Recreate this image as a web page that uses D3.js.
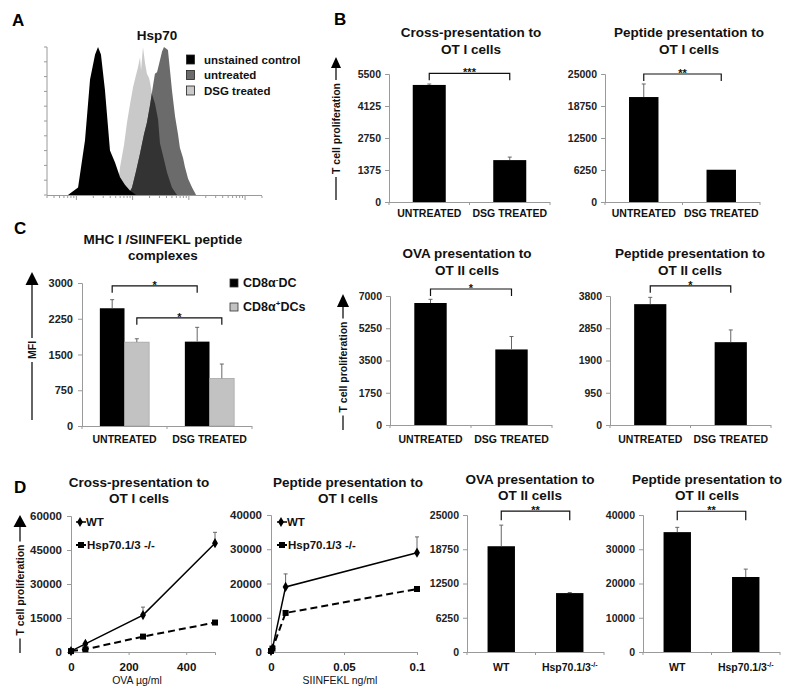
<!DOCTYPE html>
<html><head><meta charset="utf-8">
<script src="https://cdn.jsdelivr.net/npm/d3@7"></script>
<style>body{margin:0;background:#fff}svg text{font-family:Arial,"Liberation Sans",sans-serif}</style>
</head><body>
<svg id="c" width="800" height="697"></svg>
<script>
// ---------------- DATA ----------------
// Panel A: Hsp70 flow histograms (channel, relative count)
const unstainedCh    = [100,119,148,181,205,229,243,257,276,300,324,348,371,395,424];
const unstainedCount = [0,2,5,37,78,95,100,95,71,30,22,12,7,3,0];
const dsgCh    = [324,338,348,367,381,395,410,424,433,443,448,457,467,476,486,491,500,514,529,538,557,572,595,619];
const dsgCount = [0,7,19,34,49,61,73,81,86,93,84,100,89,82,79,76,68,62,51,35,24,15,5,0];
const untreatedCh    = [386,405,424,443,462,476,491,505,514,524,538,548,557,567,576,586,595,610,624,633,648,657,672,691,710];
const untreatedCount = [0,5,16,28,41,49,61,74,82,83,91,97,100,99,98,84,71,53,41,32,25,19,11,5,0];
const histLegend = ["unstained control","untreated","DSG treated"];

// Panel B
const bCats = ["UNTREATED","DSG TREATED"];
const b1Values = [5030,1800],  b1Errs = [40,130],  b1Ticks = [0,1375,2750,4125,5500];
const b2Values = [20500,6300], b2Errs = [2550,0],  b2Ticks = [0,6250,12500,18750,25000];
const b3Values = [6620,4100],  b3Errs = [200,700], b3Ticks = [0,1750,3500,5250,7000];
const b4Values = [3560,2440],  b4Errs = [200,360], b4Ticks = [0,950,1900,2850,3800];

// Panel C
const cSeries = ["CD8α-DC","CD8α+DCs"];
const cNegValues = [2470,1770], cNegErrs = [180,300];
const cPosValues = [1760,1000], cPosErrs = [70,300];
const cTicks = [0,750,1500,2250,3000];

// Panel D
const dOvaX = [0,50,250,500];
const dOvaWT = [400,3600,16300,48000], dOvaWTErr = [0,0,3500,4800];
const dOvaKO = [400,1200,6800,13000],  dOvaKOErr = [0,0,0,0];
const dOvaYTicks = [0,15000,30000,45000,60000], dOvaXTicks = [0,200,400];
const dPepX = [0,0.001,0.01,0.1];
const dPepWT = [300,1000,19000,29000], dPepWTErr = [0,0,3800,4600];
const dPepKO = [300,1000,11400,18400], dPepKOErr = [0,0,0,0];
const dPepYTicks = [0,10000,20000,30000,40000], dPepXTicks = [0,0.05,0.1];
const dCats = ["WT","Hsp70.1/3"];
const d3Values = [19300,10750], d3Errs = [3850,100], d3Ticks = [0,6250,12500,18750,25000];
const d4Values = [35000,21900], d4Errs = [1400,2300], d4Ticks = [0,10000,20000,30000,40000];

// ---------------- DRAWING ----------------
const FONT = 'Arial, "Liberation Sans", sans-serif';
const svg = d3.select('#c');
const AX = '#9a9a9a';

function txt(g, x, y, s, size, opts={}) {
  return g.append('text').attr('x',x).attr('y',y).text(s)
    .attr('font-size',size).attr('font-weight',opts.weight||'bold')
    .attr('fill',opts.fill||'#111').attr('text-anchor',opts.anchor||'middle');
}
function title(lines, cx, ys) {
  lines.forEach((l,i)=>txt(svg,cx,ys[i],l,13.5));
}
function panelLetter(s,x,y){ txt(svg,x,y,s,17,{anchor:'start',fill:'#000'}); }
function styleAxis(ax, size=10.5) {
  ax.attr('font-family',FONT).attr('font-size',size).attr('font-weight','bold');
  ax.select('.domain').attr('stroke',AX);
  ax.selectAll('.tick line').attr('stroke',AX);
  ax.selectAll('.tick text').attr('fill','#222');
}
function errorBar(g, cx, yBase, yTop) {
  if (Math.abs(yBase-yTop) < 0.5) return;
  g.append('line').attr('x1',cx).attr('x2',cx).attr('y1',yBase).attr('y2',yTop).attr('stroke','#666').attr('stroke-width',1);
  g.append('line').attr('x1',cx-2).attr('x2',cx+2).attr('y1',yTop).attr('y2',yTop).attr('stroke','#666').attr('stroke-width',1);
}
function bracket(g, xa, xb, y, len, stars) {
  g.append('path').attr('d',`M${xa},${y+len}V${y}H${xb}V${y+len}`).attr('fill','none').attr('stroke','#111').attr('stroke-width',1.2);
  txt(g,(xa+xb)/2,y+3,stars,11,{fill:'#111'});
}
function arrowLabel(x, yBottom, yTop, hw, hh, label, center, size=10.5) {
  const g = svg.append('g');
  const t = g.append('text').attr('transform',`translate(${x},${center}) rotate(-90)`)
    .attr('text-anchor','middle').attr('dy','0.35em').attr('font-size',size).attr('font-weight','bold').attr('fill','#111').text(label);
  const len = t.node().getComputedTextLength();
  g.append('line').attr('x1',x).attr('x2',x).attr('y1',yBottom).attr('y2',center+len/2+3).attr('stroke','#111').attr('stroke-width',1.3);
  g.append('line').attr('x1',x).attr('x2',x).attr('y1',center-len/2-3).attr('y2',yTop+hh).attr('stroke','#111').attr('stroke-width',1.3);
  g.append('path').attr('d',`M${x-hw/2},${yTop+hh}L${x},${yTop}L${x+hw/2},${yTop+hh}Z`).attr('fill','#000');
}
function catLabel(g, x, y, s) {
  const t = g.append('text').attr('x',x).attr('y',y).attr('text-anchor','middle')
    .attr('font-size',10.5).attr('font-weight','bold').attr('fill','#111');
  if (s === 'Hsp70.1/3') {
    t.append('tspan').text(s);
    t.append('tspan').text('-/-').attr('font-size',7).attr('dy',-4);
  } else t.text(s);
}

// ---- Panel A
(function(){
  const g = svg.append('g');
  const hx = d3.scaleLinear().domain([0,1024]).range([47,262]);
  const hy = d3.scaleLinear().domain([0,100]).range([195,47]);
  const area = d3.area().x(d=>hx(d[0])).y0(hy(0)).y1(d=>hy(d[1]));
  const zip = (a,b)=>a.map((v,i)=>[v,b[i]]);
  const dsg = zip(dsgCh,dsgCount), unt = zip(untreatedCh,untreatedCount), uns = zip(unstainedCh,unstainedCount);
  g.append('clipPath').attr('id','dsgClip').append('path').attr('d',area(dsg));
  g.append('path').attr('d',area(dsg)).attr('fill','#c9c9c9');
  g.append('path').attr('d',area(unt)).attr('fill','#6b6b6b');
  g.append('path').attr('d',area(unt)).attr('fill','#333').attr('clip-path','url(#dsgClip)');
  g.append('path').attr('d',area(uns)).attr('fill','#000');
  // axes
  const lg = d3.scaleLog().domain([0.3,2000]).range([47,262]);
  g.append('line').attr('x1',47).attr('x2',262).attr('y1',195.5).attr('y2',195.5).attr('stroke',AX);
  g.append('line').attr('x1',47).attr('x2',47).attr('y1',47).attr('y2',195.5).attr('stroke',AX);
  lg.ticks().forEach(t=>{
    const major = Math.abs(Math.log10(t)-Math.round(Math.log10(t)))<1e-6;
    g.append('line').attr('x1',lg(t)).attr('x2',lg(t)).attr('y1',196).attr('y2',196+(major?4:2)).attr('stroke',AX);
  });
  hy.ticks(14).forEach(t=>g.append('line').attr('x1',44).attr('x2',47).attr('y1',hy(t)).attr('y2',hy(t)).attr('stroke',AX));
  // legend
  const cols = ['#000','#6b6b6b','#c9c9c9'];
  histLegend.forEach((s,i)=>{
    const y = 55+i*15.5;
    g.append('rect').attr('x',186.5).attr('y',y).attr('width',8).attr('height',9).attr('fill',cols[i]).attr('stroke','#222').attr('stroke-width',0.8);
    txt(g,204,y+8.5,s,11.5,{anchor:'start'});
  });
  txt(g,157,40,'Hsp70',13.5);
})();

// ---- generic bar panel
function barPanel(o) {
  const g = svg.append('g');
  const x = d3.scaleBand().domain(o.cats).range([o.x0,o.x1]).paddingInner(o.pad).paddingOuter(o.pad/2);
  const y = d3.scaleLinear().domain([0,o.ticks[o.ticks.length-1]]).range([o.y0,o.y1]);
  const ax = g.append('g').attr('transform',`translate(${o.x0},0)`)
    .call(d3.axisLeft(y).tickValues(o.ticks).tickSize(4).tickPadding(4).tickFormat(d3.format('d')));
  styleAxis(ax);
  g.append('line').attr('x1',o.x0).attr('x2',o.x1).attr('y1',o.y0+0.5).attr('y2',o.y0+0.5).attr('stroke',AX);
  [o.x0,(o.x0+o.x1)/2,o.x1].forEach(v=>g.append('line').attr('x1',v).attr('x2',v).attr('y1',o.y0).attr('y2',o.y0+3).attr('stroke',AX));
  const bw = x.bandwidth();
  g.selectAll('rect.bar').data(o.values).join('rect').attr('class','bar')
    .attr('x',(d,i)=>x(o.cats[i])).attr('width',bw).attr('y',d=>y(d)).attr('height',d=>o.y0-y(d)).attr('fill','#000');
  o.values.forEach((v,i)=>errorBar(g, x(o.cats[i])+bw/2, y(v), y(v+o.errs[i])));
  o.cats.forEach(c=>catLabel(g, x(c)+bw/2, o.labelY, c));
  bracket(g, x(o.cats[0])+bw/2, x(o.cats[1])+bw/2, y(o.sigAt), o.tick, o.stars);
  title(o.title, o.cx, o.ty);
}

barPanel({cats:bCats,values:b1Values,errs:b1Errs,ticks:b1Ticks,x0:389,x1:550,y0:202,y1:74,pad:0.59,
  sigAt:5530,tick:7,stars:'***',labelY:217,title:['Cross-presentation to','OT I cells'],cx:471,ty:[37,54]});
barPanel({cats:bCats,values:b2Values,errs:b2Errs,ticks:b2Ticks,x0:605,x1:760,y0:202,y1:74,pad:0.62,
  sigAt:25000,tick:7,stars:'**',labelY:217,title:['Peptide presentation to','OT I cells'],cx:689,ty:[37,54]});
barPanel({cats:bCats,values:b3Values,errs:b3Errs,ticks:b3Ticks,x0:390,x1:552,y0:425,y1:296,pad:0.6,
  sigAt:7380,tick:7,stars:'*',labelY:443,title:['OVA presentation to','OT II cells'],cx:467,ty:[258,275]});
barPanel({cats:bCats,values:b4Values,errs:b4Errs,ticks:b4Ticks,x0:610,x1:771,y0:425,y1:296,pad:0.6,
  sigAt:4100,tick:7,stars:'*',labelY:443,title:['Peptide presentation to','OT II cells'],cx:690,ty:[258,275]});
barPanel({cats:dCats,values:d3Values,errs:d3Errs,ticks:d3Ticks,x0:467,x1:604,y0:652,y1:515,pad:0.6,
  sigAt:25700,tick:9,stars:'**',labelY:671,title:['OVA presentation to','OT II cells'],cx:530,ty:[484,500]});
barPanel({cats:dCats,values:d4Values,errs:d4Errs,ticks:d4Ticks,x0:643,x1:780,y0:652,y1:515,pad:0.6,
  sigAt:41100,tick:9,stars:'**',labelY:671,title:['Peptide presentation to','OT II cells'],cx:707,ty:[484,500]});

// ---- Panel C grouped bars
(function(){
  const g = svg.append('g');
  const x0 = 82, x1 = 252, y0 = 426, y1 = 283;
  const x = d3.scaleBand().domain(bCats).range([x0,x1]).paddingInner(0.42).paddingOuter(0.21);
  const xs = d3.scaleBand().domain(cSeries).range([0,x.bandwidth()]);
  const y = d3.scaleLinear().domain([0,cTicks[cTicks.length-1]]).range([y0,y1]);
  const ax = g.append('g').attr('transform',`translate(${x0},0)`)
    .call(d3.axisLeft(y).tickValues(cTicks).tickSize(4).tickPadding(5).tickFormat(d3.format('d')));
  styleAxis(ax,11);
  g.append('line').attr('x1',x0).attr('x2',x1).attr('y1',y0+0.5).attr('y2',y0+0.5).attr('stroke',AX);
  [x0,(x0+x1)/2,x1].forEach(v=>g.append('line').attr('x1',v).attr('x2',v).attr('y1',y0).attr('y2',y0+3).attr('stroke',AX));
  const series = [{name:cSeries[0],vals:cNegValues,errs:cNegErrs,fill:'#000'},{name:cSeries[1],vals:cPosValues,errs:cPosErrs,fill:'#c2c2c2'}];
  const cx = (cat,s)=>x(cat)+xs(s)+xs.bandwidth()/2;
  series.forEach(s=>{
    bCats.forEach((c,i)=>{
      g.append('rect').attr('x',x(c)+xs(s.name)).attr('width',xs.bandwidth()).attr('y',y(s.vals[i]))
        .attr('height',y0-y(s.vals[i])).attr('fill',s.fill).attr('stroke',s.fill==='#000'?'none':'#9a9a9a').attr('stroke-width',0.6);
      errorBar(g, cx(c,s.name), y(s.vals[i]), y(s.vals[i]+s.errs[i]));
    });
  });
  bCats.forEach(c=>catLabel(g, x(c)+x.bandwidth()/2, 443, c));
  bracket(g, cx(bCats[0],cSeries[0]), cx(bCats[1],cSeries[0]), y(2940), 7, '*');
  bracket(g, cx(bCats[0],cSeries[1]), cx(bCats[1],cSeries[1]), y(2270), 7, '*');
  // legend
  series.forEach((s,i)=>{
    const ly = 279+i*24;
    g.append('rect').attr('x',230).attr('y',ly).attr('width',8).attr('height',8).attr('fill',s.fill).attr('stroke','#333').attr('stroke-width',0.8);
    const t = g.append('text').attr('x',243).attr('y',ly+8).attr('font-size',12.5).attr('font-weight','bold').attr('fill','#111');
    t.append('tspan').text('CD8α');
    t.append('tspan').text(i===0?'-':'+').attr('font-size',8).attr('dy',-5);
    t.append('tspan').text(i===0?'DC':'DCs').attr('dy',5);
  });
  title(['MHC I /SIINFEKL peptide','complexes'],163,[244,260]);
})();

// ---- Panel D line charts
function linePanel(o) {
  const g = svg.append('g');
  const x = d3.scaleLinear().domain([0,o.xMax]).range([o.x0,o.x1]);
  const y = d3.scaleLinear().domain([0,o.yTicks[o.yTicks.length-1]]).range([o.y0,o.y1]);
  const ay = g.append('g').attr('transform',`translate(${o.x0},0)`)
    .call(d3.axisLeft(y).tickValues(o.yTicks).tickSize(4).tickPadding(5).tickFormat(d3.format('d')));
  styleAxis(ay,11.5);
  const axx = g.append('g').attr('transform',`translate(0,${o.y0})`)
    .call(d3.axisBottom(x).tickValues(o.xTicks).tickSize(3).tickPadding(8).tickFormat(d=>d===0?'0':String(d)));
  styleAxis(axx,11.5);
  axx.selectAll('.tick text').attr('fill','#111');
  const line = d3.line().x((d,i)=>x(o.xs[i])).y(d=>y(d));
  o.wt.forEach((v,i)=>errorBar(g, x(o.xs[i]), y(v), y(v+o.wtErr[i])));
  o.ko.forEach((v,i)=>errorBar(g, x(o.xs[i]), y(v), y(v+o.koErr[i])));
  g.append('path').attr('d',line(o.ko)).attr('fill','none').attr('stroke','#000').attr('stroke-width',2).attr('stroke-dasharray','7,4');
  g.append('path').attr('d',line(o.wt)).attr('fill','none').attr('stroke','#000').attr('stroke-width',1.5);
  const diamond = d3.symbol().type(d3.symbolDiamond).size(30);
  const square = d3.symbol().type(d3.symbolSquare).size(36);
  o.ko.forEach((v,i)=>g.append('path').attr('d',square()).attr('transform',`translate(${x(o.xs[i])},${y(v)})`).attr('fill','#000'));
  o.wt.forEach((v,i)=>g.append('path').attr('d',diamond()).attr('transform',`translate(${x(o.xs[i])},${y(v)})`).attr('fill','#000'));
  const lx = o.legX;
  g.append('line').attr('x1',lx).attr('x2',lx+10).attr('y1',522).attr('y2',522).attr('stroke','#000').attr('stroke-width',1.5);
  g.append('path').attr('d',diamond()).attr('transform',`translate(${lx+4},522)`).attr('fill','#000');
  txt(g,lx+10,526,'WT',11.5,{anchor:'start'});
  g.append('line').attr('x1',lx).attr('x2',lx+10).attr('y1',545).attr('y2',545).attr('stroke','#000').attr('stroke-width',2);
  g.append('path').attr('d',square()).attr('transform',`translate(${lx+5},545)`).attr('fill','#000');
  txt(g,lx+11,549,'Hsp70.1/3 -/-',11.5,{anchor:'start'});
  txt(g,o.xLabelX,684,o.xLabel,10.5,{weight:'normal'});
  title(o.title,o.cx,[487,503]);
}
linePanel({x0:71,x1:215,y0:652,y1:516,xMax:500,xs:dOvaX,wt:dOvaWT,wtErr:dOvaWTErr,ko:dOvaKO,koErr:dOvaKOErr,
  yTicks:dOvaYTicks,xTicks:dOvaXTicks,legX:76,xLabel:'OVA µg/ml',xLabelX:137,title:['Cross-presentation to','OT I cells'],cx:139});
linePanel({x0:271,x1:417,y0:652,y1:515,xMax:0.1,xs:dPepX,wt:dPepWT,wtErr:dPepWTErr,ko:dPepKO,koErr:dPepKOErr,
  yTicks:dPepYTicks,xTicks:dPepXTicks,legX:277,xLabel:'SIINFEKL ng/ml',xLabelX:340,title:['Peptide presentation to','OT I cells'],cx:348});

// ---- axis arrow labels
arrowLabel(336,200,57,10,11,'T cell proliferation',128.5);
arrowLabel(343,430,294,12,13,'T cell proliferation',367);
arrowLabel(20,653,515,13,12,'T cell proliferation',590);
arrowLabel(32,420,272,13,13,'MFI',350);

// ---- panel letters
panelLetter('A',12,26);
panelLetter('B',334,25);
panelLetter('C',14,234);
panelLetter('D',14,493);
</script>
</body></html>
